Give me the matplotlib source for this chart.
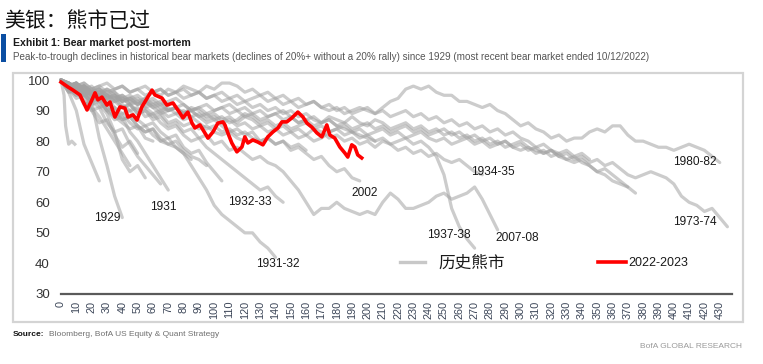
import matplotlib
matplotlib.use("Agg")
import matplotlib.pyplot as plt
from matplotlib.patches import Rectangle
from matplotlib.lines import Line2D

# ---------------- data (index level, peak = 100; x = trading days) ----------------
STEP = 5
grey_series = {
    "1929": [100, 96, 97, 92, 93, 81, 72, 62, 55],
    "2020": [100, 96, 90, 79, 73, 67],
    "1987": [100, 98, 99, 95, 96, 92, 89, 83, 74, 70, 72, 68],
    "1990": [100, 98, 99, 96, 94, 95, 91, 88, 86, 84, 85, 81, 80],
    "1931": [100, 98, 99, 95, 93, 94, 90, 87, 88, 83, 80, 76, 72, 68, 64],
    "1962": [100, 97, 94, 95, 90, 86, 87, 82, 78, 80, 76],
    "1946": [100, 99, 97, 98, 95, 93, 94, 91, 89, 90, 87, 85, 86, 83, 81, 82, 78, 76, 77, 73, 70, 67],
    "1933": [100, 98, 96, 97, 93, 91, 92, 89, 87, 88, 85, 83, 84, 81, 79, 80, 77, 75, 74, 72],
    "1931-32": [100, 97, 98, 95, 93, 94, 90, 91, 87, 88, 85, 83, 84, 80, 79, 78, 76, 72, 68, 64,
                59, 56, 54, 52, 50, 50, 47, 45, 42],
    "1932-33": [100, 99, 97, 98, 96, 97, 94, 95, 92, 90, 91, 88, 89, 86, 84, 85, 82, 80, 81, 78,
                76, 74, 72, 70, 68, 66, 64, 65, 62, 60],
    "2002": [100, 99, 97, 98, 96, 97, 95, 94, 95, 93, 94, 92, 93, 91, 90, 91, 89, 90, 88, 86,
             87, 85, 83, 84, 82, 83, 80, 81, 79, 80, 77, 78, 76, 74, 75, 72, 70, 71, 68, 67],
    "2007-08": [100, 98, 99, 97, 95, 96, 93, 94, 91, 92, 89, 90, 87, 88, 85, 86, 83, 84, 81, 82,
                79, 80, 77, 78, 76, 74, 75,
                73, 72, 70, 67, 64, 60, 56, 58, 58, 60, 58, 57, 56, 57, 56, 60, 63, 61, 58, 58,
                59, 60, 62, 63, 61, 62, 63, 65, 61, 56, 51],
    "1937-38": [100, 99, 97, 98, 96, 97, 95, 93, 94, 92, 93, 91, 92, 90, 91, 89, 90, 88, 89, 87,
                88, 86, 87, 85, 86,
                84, 85, 83, 84, 82, 83, 81, 82, 80, 81, 83, 84, 82, 83, 81, 82, 80, 81, 79, 80,
                81, 79, 80, 78, 75, 69, 58, 52, 48, 45],
    "1934-35": [100, 98, 99, 97, 98, 95, 96, 94, 95, 93, 92, 94, 92, 93, 90, 91, 89, 91, 90, 88,
                89, 87, 88, 86, 88, 87, 85, 86, 84, 85, 83, 84, 82, 84, 83, 81, 82, 80, 81, 79,
                80, 78, 80, 79, 77, 78, 76, 77, 75, 76, 74, 73, 74, 72, 70, 69],
    "1980-82": [100, 98, 97, 98, 96, 95, 97, 96, 94, 95, 93, 94, 96, 95, 97, 96, 98, 97, 96, 98, 97,
                99, 99, 98, 96, 97, 95, 96, 94, 95, 93, 94, 92, 93, 91, 90, 91, 89, 90, 91, 90,
                89, 91, 93, 94, 97, 98, 97, 98, 96, 95, 95, 93, 93, 92, 91, 92, 90, 89, 87, 85,
                86, 84, 83, 81, 82, 80, 81, 81, 83, 84, 83, 85, 85, 82, 80, 80, 79, 78, 78, 77,
                78, 79, 78, 77, 75, 73],
    "1973-74": [100, 98, 99, 97, 95, 96, 94, 95, 93, 94, 92, 93, 91, 92, 90, 91, 92, 90, 91, 89, 90,
                91, 89, 90, 88, 89, 87, 88, 89, 87, 88, 86, 87, 85, 86, 88, 87, 86, 88, 86, 85,
                87, 86, 84, 85, 86, 84, 85, 83, 84, 82, 83, 81, 82, 80, 81, 79, 80, 78, 79, 80,
                78, 77, 76, 77, 75, 76, 74, 75, 73, 74, 72, 73, 71, 69, 68, 69, 70, 69, 68, 66,
                62, 60, 59, 57, 58, 55, 52],
    "1968-70": [100, 99, 97, 98, 95, 96, 97, 95, 93, 94, 95, 93, 94, 92, 93, 94, 92, 90, 91, 92, 90,
                91, 92, 90, 91, 89, 90, 88, 89, 90, 88, 86, 87, 88, 86, 87, 85, 86, 84, 85, 86,
                84, 85, 83, 84, 85, 83, 84, 82, 83, 84, 82, 83, 81, 82, 80, 81, 79, 80, 78, 79,
                77, 78, 76, 77, 75, 74, 75, 73, 72, 70, 71, 69, 67, 65, 63],
    "2000-01": [100, 97, 98, 96, 97, 94, 95, 96, 93, 94, 92, 93, 91, 89, 90, 91, 89, 90, 88, 89, 87,
                88, 86, 87, 89, 88, 86, 87, 85, 86, 84, 85, 86, 84, 85, 83, 84, 85, 83, 84, 82,
                83, 84, 82, 83, 81, 82, 83, 81, 80, 81, 79, 80, 81, 79, 80, 78, 79, 80, 78, 77,
                78, 76, 77, 75, 76, 74, 73, 74, 72, 70, 69, 67, 66, 65],
    "1939-40": [100, 99, 98, 99, 97, 98, 96, 97, 98, 96, 97, 95, 96, 97, 95, 96, 94, 95, 96, 94, 95,
                96, 94, 95, 93, 94, 95, 93, 94, 92, 93, 91, 92, 93, 91, 92, 90, 91, 89, 90, 91,
                89, 90, 88, 89, 90, 88, 89, 87, 88, 86, 87, 85, 86, 84, 85, 83, 84, 82, 83, 81,
                80, 78, 79, 77, 76, 77, 75, 76, 74],
    "1966": [100, 98, 97, 98, 96, 94, 95, 93, 94, 92, 90, 91, 89, 90, 88, 89, 87, 88, 86, 84,
             85, 83, 84, 82, 83, 81, 80, 81, 79, 80, 78, 79, 77],
    "1956-57": [100, 99, 98, 99, 97, 98, 99, 97, 98, 96, 97, 98, 96, 97, 95, 96, 97, 95, 96, 94,
                95, 93, 94, 92, 93, 91, 92, 90, 91, 89, 90, 88, 89, 87, 86, 87, 85, 84, 83, 82,
                81, 80],
    "1948-49": [100, 98, 96, 97, 94, 95, 92, 93, 91, 92, 89, 90, 88, 89, 86, 87, 85, 86, 84, 85,
                83, 82, 83, 81, 80],
    "1961-62": [100, 97, 95, 96, 92, 93, 90, 88, 89, 86, 84, 85, 82, 80, 81, 78, 76, 74],
    "1930": [100, 96, 97, 93, 90, 91, 86, 83, 84, 79, 75, 72, 69, 66],
    "1938-39": [100, 97, 95, 96, 91, 88, 84, 80, 76, 72],
}
# a very short early collapse, irregular day spacing
early_x = [0, 2, 3, 5, 7, 9]
early_y = [100, 95, 85, 79, 80, 79]

# current bear market 2022-2023
red_x = [0, 4.6, 7.8, 12.4, 17.0, 20.2, 22.2, 24.1, 26.7, 30.0, 32.0, 35.2, 38.5, 41.7, 43.7,
         47.0, 49.6, 52.8, 59.4, 61.3, 65.9, 69.1, 73.1, 77.6, 79.6, 82.8, 85.5, 87.4, 90.7,
         93.9, 95.9, 99.2, 102.4, 105.7, 107.0, 108.9, 111.5, 114.8, 118.1, 120.0, 122.0,
         125.2, 128.5, 131.8, 135.0, 138.3, 141.6, 144.2, 147.4, 150.7, 154.6, 157.9, 160.5,
         163.7, 167.0, 170.3, 173.5, 175.5, 178.7, 182.0, 185.3, 187.2, 189.8, 191.8, 193.7, 196.3]
red_y = [99.3, 97.7, 96.7, 95.1, 90.2, 93.5, 95.8, 93.5, 94.4, 91.8, 92.8, 87.9, 91.2, 90.8, 87.9,
         88.6, 86.9, 91.2, 96.7, 95.1, 94.1, 91.8, 92.5, 89.2, 87.6, 89.5, 85.9, 84.3, 85.3,
         82.7, 81.0, 83.0, 85.9, 86.3, 85.3, 82.7, 79.4, 76.5, 78.1, 81.4, 79.4,
         80.4, 79.7, 78.8, 81.4, 83.0, 84.3, 86.3, 86.3, 87.6, 89.5, 87.9, 85.9,
         84.6, 82.7, 81.4, 85.3, 82.0, 81.0, 78.1, 76.1, 74.8, 78.8, 78.1, 75.5, 74.5]

# labels of notable bear markets (text, x, y)
label_text = ["1929", "1931", "1932-33", "1931-32", "2002", "1934-35", "1937-38", "2007-08",
              "1980-82", "1973-74"]
label_x = [30.5, 67, 123, 141.5, 198, 282, 253, 298, 414, 414]
label_y = [55.0, 58.5, 60.0, 39.9, 63.2, 69.8, 49.2, 48.4, 73.2, 53.6]

x_ticks = list(range(0, 431, 10))
y_ticks = [30, 40, 50, 60, 70, 80, 90, 100]

# ---------------- figure ----------------
W, H = 763, 364
fig = plt.figure(figsize=(W / 100, H / 100), dpi=100)

LAT = ["Liberation Sans", "DejaVu Sans"]
CJK = ["Noto Sans CJK SC", "DejaVu Sans"]

def fx(px):
    return px / W

def fy(py):
    return 1 - py / H

# outer light frame around chart area
fig.patches.append(Rectangle((fx(13), fy(322)), fx(743) - fx(13), fy(73) - fy(322),
                             transform=fig.transFigure, fill=False, edgecolor="#d4d4d4",
                             linewidth=1.6, zorder=0))
# blue exhibit bar
fig.patches.append(Rectangle((fx(1), fy(62)), fx(6) - fx(1), fy(34) - fy(62),
                             transform=fig.transFigure, facecolor="#0b4ea2",
                             edgecolor="none", zorder=0))

fig.text(fx(4), fy(21), "美银：熊市已过", family=CJK, fontsize=15, color="#111111",
         va="center", ha="left")
fig.text(fx(13), fy(43), "Exhibit 1: Bear market post-mortem", family=LAT,
         fontsize=7.6, fontweight="bold", color="#1a1a1a", va="center", ha="left")
fig.text(fx(13), fy(57),
         "Peak-to-trough declines in historical bear markets (declines of 20%+ without a 20% rally) "
         "since 1929 (most recent bear market ended 10/12/2022)",
         family=LAT, fontsize=7.1, color="#555555", va="center", ha="left")
src = fig.text(fx(13), fy(334), "Source:", family=LAT, fontsize=6.0, fontweight="bold",
               color="#111111", va="center", ha="left")
fig.canvas.draw()
sb = src.get_window_extent(renderer=fig.canvas.get_renderer())
fig.text(fx(sb.x1 + 4), fy(334), "Bloomberg, BofA US Equity & Quant Strategy", family=LAT,
         fontsize=6.0, color="#707070", va="center", ha="left")
fig.text(fx(742), fy(347), "BofA GLOBAL RESEARCH", family=LAT, fontsize=6.0,
         color="#9a9a9a", va="center", ha="right")

# axes
ax = fig.add_axes([fx(61), fy(294), fx(732) - fx(61), fy(80) - fy(294)])
ax.set_xlim(0, 438)
ax.set_ylim(30, 100)

GREY = "#a2a2a2"
for name, ys in grey_series.items():
    xs = [STEP * i for i in range(len(ys))]
    ax.plot(xs, ys, color=GREY, alpha=0.55, lw=2.3, solid_joinstyle="round",
            solid_capstyle="round", clip_on=False, zorder=2)
ax.plot(early_x, early_y, color=GREY, alpha=0.55, lw=2.3, clip_on=False, zorder=2)
ax.plot(red_x, red_y, color="#ff0000", lw=2.6, solid_joinstyle="round", clip_on=False, zorder=4)

for t, x, y in zip(label_text, label_x, label_y):
    ax.text(x, y, t, family=LAT, fontsize=8.6, color="#1a1a1a", ha="center", va="center",
            zorder=5)

# axis styling
for s in ["left", "right", "top"]:
    ax.spines[s].set_visible(False)
ax.spines["bottom"].set_color("#5a5a5a")
ax.spines["bottom"].set_linewidth(1.6)
ax.set_xticks(x_ticks)
ax.set_xticklabels([str(v) for v in x_ticks], rotation=90, family=LAT, fontsize=7.8,
                   color="#3c4658")
ax.set_yticks(y_ticks)
ax.set_yticklabels([str(v) for v in y_ticks], family=LAT, fontsize=9.5, color="#333333")
ax.tick_params(axis="x", length=0, pad=5)
ax.tick_params(axis="y", length=0, pad=8)
ax.patch.set_alpha(0)

# legend (two separate entries placed like the original)
h1 = Line2D([], [], color="#c8c8c8", lw=2.4)
h2 = Line2D([], [], color="#ff0000", lw=2.6)
leg1 = ax.legend([h1], ["历史熊市"], loc="center left",
                 bbox_to_anchor=((400 - 61) / 671, (294 - 263) / 214),
                 frameon=False, borderpad=0, borderaxespad=0, handlelength=1.5,
                 handletextpad=0.8, prop={"family": CJK, "size": 12})
ax.add_artist(leg1)
leg2 = ax.legend([h2], ["2022-2023"], loc="center left",
                 bbox_to_anchor=((598 - 61) / 671, (294 - 263) / 214),
                 frameon=False, borderpad=0, borderaxespad=0, handlelength=2.2,
                 handletextpad=0.25, prop={"family": LAT, "size": 9})
for lg in (leg1, leg2):
    for t in lg.get_texts():
        t.set_color("#1a1a1a")

fig.savefig("out.png", dpi=100)
